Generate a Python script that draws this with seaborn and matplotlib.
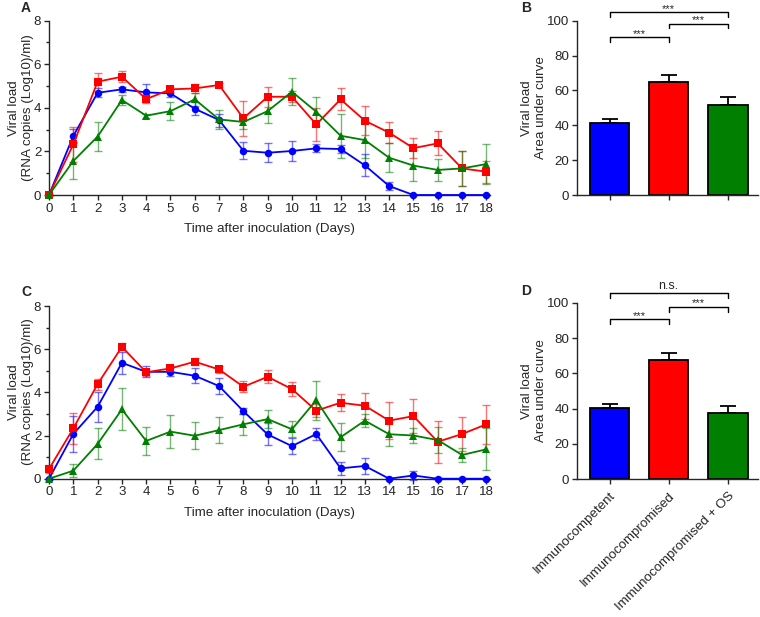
import numpy as np
import pandas as pd
import matplotlib
matplotlib.use("Agg")
import matplotlib.pyplot as plt
import seaborn as sns
from matplotlib.ticker import MultipleLocator

sns.set_style("ticks")
plt.rcParams['font.family'] = ['Liberation Sans', 'DejaVu Sans']

# ---- data ----
days = list(range(19))
groups = ['Immunocompetent', 'Immunocompromised', 'Immunocompromised + OS']
colors = {'Immunocompetent': '#0000ff', 'Immunocompromised': '#ff0000',
          'Immunocompromised + OS': '#007f00'}
markers = {'Immunocompetent': 'o', 'Immunocompromised': 's',
           'Immunocompromised + OS': '^'}

# panel A
a_comp = [0, 2.71, 4.69, 4.85, 4.71, 4.66, 3.96, 3.44, 2.03, 1.94, 2.02, 2.14, 2.11, 1.36, 0.41, 0, 0, 0, 0]
a_comp_err = [0, 0.3, 0.2, 0.1, 0.37, 0.15, 0.3, 0.3, 0.39, 0.43, 0.46, 0.18, 0.2, 0.51, 0.2, 0, 0, 0, 0]
a_immu = [0, 2.32, 5.2, 5.43, 4.4, 4.85, 4.89, 5.05, 3.52, 4.51, 4.51, 3.24, 4.39, 3.41, 2.86, 2.15, 2.37, 1.22, 1.07]
a_immu_err = [0, 0.8, 0.42, 0.25, 0.2, 0.12, 0.2, 0.1, 0.8, 0.46, 0.25, 0.74, 0.5, 0.67, 0.47, 0.45, 0.55, 0.8, 0.5]
a_os = [0, 1.56, 2.68, 4.36, 3.64, 3.85, 4.39, 3.47, 3.35, 3.85, 4.74, 3.82, 2.72, 2.52, 1.71, 1.35, 1.15, 1.22, 1.42]
a_os_err = [0, 0.83, 0.66, 0.23, 0.1, 0.43, 0.3, 0.43, 0.3, 0.54, 0.61, 0.66, 1.0, 0.8, 0.66, 0.7, 0.5, 0.8, 0.9]

# panel C
c_comp = [0, 2.07, 3.33, 5.37, 4.95, 4.95, 4.77, 4.29, 3.13, 2.05, 1.51, 2.07, 0.48, 0.59, 0, 0.15, 0, 0, 0]
c_comp_err = [0, 0.82, 0.69, 0.51, 0.25, 0.2, 0.35, 0.36, 0.15, 0.51, 0.36, 0.3, 0.3, 0.38, 0, 0.2, 0, 0, 0]
c_immu = [0.45, 2.33, 4.38, 6.11, 4.93, 5.11, 5.42, 5.06, 4.26, 4.72, 4.15, 3.15, 3.52, 3.38, 2.69, 2.9, 1.71, 2.07, 2.52]
c_immu_err = [0.2, 0.7, 0.25, 0.17, 0.15, 0.15, 0.15, 0.15, 0.25, 0.3, 0.34, 0.3, 0.4, 0.6, 0.85, 0.8, 0.98, 0.77, 0.89]
c_os = [0, 0.37, 1.61, 3.21, 1.75, 2.18, 1.99, 2.25, 2.52, 2.76, 2.29, 3.64, 1.92, 2.69, 2.06, 2.0, 1.79, 1.1, 1.36]
c_os_err = [0, 0.3, 0.72, 0.97, 0.66, 0.77, 0.62, 0.59, 0.5, 0.42, 0.37, 0.9, 0.65, 0.31, 0.55, 0.35, 0.6, 0.34, 0.97]

# bar panels (area under curve)
b_auc = [41.1, 65.0, 51.6]
b_err = [2.3, 3.8, 4.4]
d_auc = [40.2, 67.6, 37.7]
d_err = [2.4, 4.1, 3.8]

b_sig = [(0, 2, 105, '***'), (1, 2, 98.3, '***'), (0, 1, 90.5, '***')]
d_sig = [(0, 2, 105.3, 'n.s.'), (1, 2, 97.7, '***'), (0, 1, 90.6, '***')]


def long_df(vals, errs):
    rows = []
    for g, v, e in zip(groups, vals, errs):
        for d, y, s in zip(days, v, e):
            rows.append({'day': d, 'load': y, 'sem': s, 'group': g})
    return pd.DataFrame(rows)


dfA = long_df([a_comp, a_immu, a_os], [a_comp_err, a_immu_err, a_os_err])
dfC = long_df([c_comp, c_immu, c_os], [c_comp_err, c_immu_err, c_os_err])

fig = plt.figure(figsize=(7.6, 6.17), dpi=100)
W, H = 760, 617


def px_axes(l, t, r, b):
    return fig.add_axes([l / W, 1 - b / H, (r - l) / W, (b - t) / H])


axA = px_axes(49, 20.7, 490, 195)
axC = px_axes(49, 306, 490, 478.7)
axB = px_axes(577, 20.7, 758, 195)
axD = px_axes(577, 302.7, 758, 479.3)

fs = 9.6


def line_panel(ax, df):
    for g in groups:
        sub = df[df['group'] == g]
        ax.errorbar(sub['day'], sub['load'], yerr=sub['sem'], fmt='none',
                    ecolor=colors[g], alpha=0.55, elinewidth=1.0, capsize=2.6,
                    capthick=1.0, clip_on=False, zorder=2)
    sns.lineplot(data=df, x='day', y='load', hue='group', style='group',
                 palette=colors, markers=markers, dashes=False, legend=False,
                 errorbar=None, linewidth=1.3, markersize=5.4,
                 markeredgewidth=0, clip_on=False, ax=ax, zorder=3)
    ax.set_xlim(0, 18.15)
    ax.set_ylim(0, 8)
    ax.set_xticks(days)
    ax.set_yticks([0, 2, 4, 6, 8])
    ax.yaxis.set_minor_locator(MultipleLocator(1))
    ax.tick_params(labelsize=fs, length=3.5, width=1.0, pad=2)
    ax.tick_params(which='minor', length=2, width=1.0)
    ax.set_xlabel('Time after inoculation (Days)', fontsize=fs, labelpad=6)
    ax.set_ylabel('')
    sns.despine(ax=ax)
    for s in ax.spines.values():
        s.set_linewidth(1.0)


def bar_panel(ax, vals, errs, sig, show_labels):
    dfb = pd.DataFrame({'group': groups, 'auc': vals})
    sns.barplot(data=dfb, x='group', y='auc', hue='group', palette=colors,
                saturation=1, edgecolor='black', linewidth=1.3, width=0.67,
                legend=False, ax=ax, zorder=2)
    ax.errorbar(range(3), vals, yerr=[np.zeros(3), errs], fmt='none',
                ecolor='black', elinewidth=1.3, capsize=6, capthick=1.3, zorder=1)
    ax.set_xlim(-0.55, 2.51)
    ax.set_ylim(0, 100)
    ax.set_yticks([0, 20, 40, 60, 80, 100])
    ax.tick_params(labelsize=fs, length=3.5, width=1.0, pad=2)
    ax.set_xlabel('')
    ax.set_ylabel('')
    ax.set_xticks(range(3))
    if show_labels:
        ax.set_xticklabels(groups, rotation=45, ha='right',
                           rotation_mode='anchor', fontsize=fs)
        ax.tick_params(axis='x', pad=4)
    else:
        ax.set_xticklabels([])
    sns.despine(ax=ax)
    for s in ax.spines.values():
        s.set_linewidth(1.0)
    for x1, x2, y, txt in sig:
        ax.plot([x1, x1, x2, x2], [y - 2.7, y, y, y - 2.7], color='black',
                lw=1.0, clip_on=False)
        if txt == 'n.s.':
            ax.text((x1 + x2) / 2, y + 1.0, txt, ha='center', va='bottom',
                    fontsize=9, clip_on=False)
        else:
            ax.text((x1 + x2) / 2, y - 1.0, txt, ha='center', va='bottom',
                    fontsize=8, clip_on=False)


line_panel(axA, dfA)
line_panel(axC, dfC)
bar_panel(axB, b_auc, b_err, b_sig, False)
bar_panel(axD, d_auc, d_err, d_sig, True)

ylab_line = 'Viral load\n(RNA copies (Log10)/ml)'
ylab_bar = 'Viral load\nArea under curve'
fig.text(21 / W, 1 - 108 / H, ylab_line, rotation=90, ha='center',
         va='center', fontsize=fs, linespacing=1.25)
fig.text(21 / W, 1 - 392 / H, ylab_line, rotation=90, ha='center',
         va='center', fontsize=fs, linespacing=1.25)
fig.text(534 / W, 1 - 108 / H, ylab_bar, rotation=90, ha='center',
         va='center', fontsize=fs, linespacing=1.25)
fig.text(534 / W, 1 - 391 / H, ylab_bar, rotation=90, ha='center',
         va='center', fontsize=fs, linespacing=1.25)

for lbl, x, y in [('A', 26, 8), ('C', 26, 291.5), ('B', 526.5, 7.5), ('D', 526.5, 291)]:
    fig.text(x / W, 1 - y / H, lbl, ha='center', va='center', fontsize=10,
             fontweight='bold')

fig.savefig('out.png', dpi=100)
